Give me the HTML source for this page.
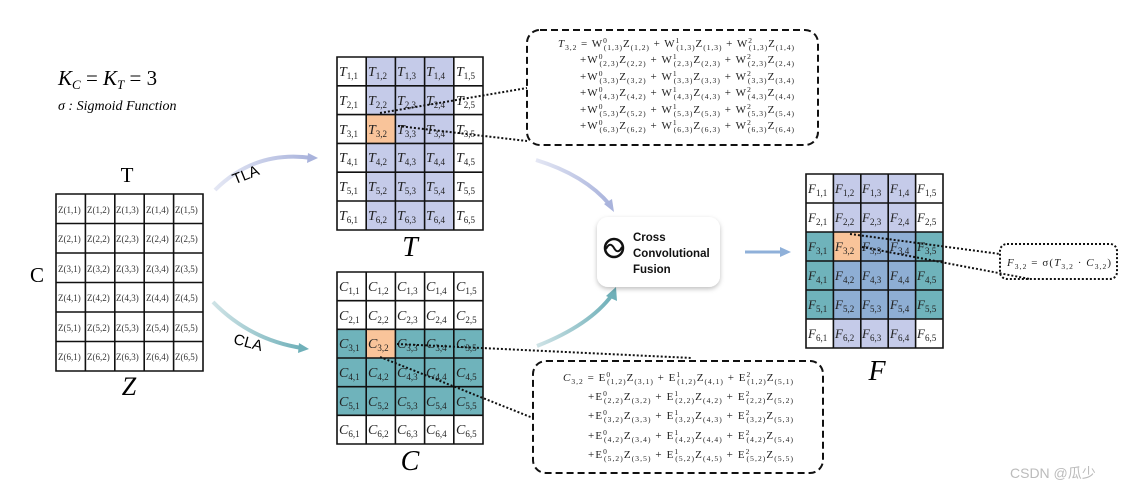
<!DOCTYPE html>
<html><head><meta charset="utf-8"><style>
html,body{margin:0;padding:0;background:#fff}
svg{display:block}
.m{font-family:"Liberation Serif",serif;font-style:italic}
.cl{font-family:"Liberation Serif",serif;font-style:italic;font-size:14px;fill:#222}
.cl tspan{font-size:9px;font-style:normal}
.z{font-family:"Liberation Serif",serif;font-size:9px;fill:#333}
.eq{font-family:"Liberation Serif",serif;font-size:11px;fill:#222}
.eq .s{font-size:7.5px}
.g{stroke:#111;stroke-width:1.6;fill:none}
</style></head><body>
<svg width="1141" height="495" viewBox="0 0 1141 495" xmlns="http://www.w3.org/2000/svg">
<defs>
<linearGradient id="lg1" x1="0" x2="1"><stop offset="0" stop-color="#e4e7f4"/><stop offset="1" stop-color="#a9b3dc"/></linearGradient>
<linearGradient id="lg2" x1="0" x2="1"><stop offset="0" stop-color="#cfe3e6"/><stop offset="1" stop-color="#6fb0b9"/></linearGradient>
<filter id="sh" x="-20%" y="-20%" width="140%" height="150%"><feDropShadow dx="0" dy="2" stdDeviation="2.5" flood-color="#000" flood-opacity="0.25"/></filter>
</defs>

<text x="58" y="85" class="m" font-size="21">K<tspan font-size="13" dy="4">C</tspan><tspan dy="-4" font-style="normal"> = </tspan>K<tspan font-size="13" dy="4">T</tspan><tspan dy="-4" font-style="normal"> = 3</tspan></text>
<text x="58" y="110" class="m" font-size="14">σ : Sigmoid Function</text>

<!-- Z grid -->
<text x="127" y="182" font-family="Liberation Serif,serif" font-size="21" text-anchor="middle">T</text>
<text x="30" y="282" font-family="Liberation Serif,serif" font-size="21">C</text>
<text x="129" y="395" class="m" font-size="26" text-anchor="middle">Z</text>
<g>
<rect x="56" y="194" width="147" height="177" fill="#fff"/>
<path class="g" d="M56 194H203V371H56Z M85.4 194V371 M114.8 194V371 M144.2 194V371 M173.6 194V371 M56 223.5H203 M56 253H203 M56 282.5H203 M56 312H203 M56 341.5H203"/>
<g class="z">
<text x="58" y="213">Z(1,1)</text><text x="87" y="213">Z(1,2)</text><text x="116" y="213">Z(1,3)</text><text x="146" y="213">Z(1,4)</text><text x="175" y="213">Z(1,5)</text>
<text x="58" y="242">Z(2,1)</text><text x="87" y="242">Z(2,2)</text><text x="116" y="242">Z(2,3)</text><text x="146" y="242">Z(2,4)</text><text x="175" y="242">Z(2,5)</text>
<text x="58" y="272">Z(3,1)</text><text x="87" y="272">Z(3,2)</text><text x="116" y="272">Z(3,3)</text><text x="146" y="272">Z(3,4)</text><text x="175" y="272">Z(3,5)</text>
<text x="58" y="301">Z(4,1)</text><text x="87" y="301">Z(4,2)</text><text x="116" y="301">Z(4,3)</text><text x="146" y="301">Z(4,4)</text><text x="175" y="301">Z(4,5)</text>
<text x="58" y="331">Z(5,1)</text><text x="87" y="331">Z(5,2)</text><text x="116" y="331">Z(5,3)</text><text x="146" y="331">Z(5,4)</text><text x="175" y="331">Z(5,5)</text>
<text x="58" y="360">Z(6,1)</text><text x="87" y="360">Z(6,2)</text><text x="116" y="360">Z(6,3)</text><text x="146" y="360">Z(6,4)</text><text x="175" y="360">Z(6,5)</text>
</g></g>

<path d="M215 190 Q255 150 312 158" stroke="url(#lg1)" stroke-width="4" fill="none"/>
<path d="M308 153 L318 158 L307 163Z" fill="#a9b3dc"/>
<text x="232" y="180" font-family="Liberation Sans,sans-serif" font-size="15" transform="rotate(-22 245 175)">TLA</text>
<path d="M213 302 Q250 340 302 348" stroke="url(#lg2)" stroke-width="4" fill="none"/>
<path d="M299 343 L309 349 L298 353Z" fill="#6fb0b9"/>
<text x="233" y="348" font-family="Liberation Sans,sans-serif" font-size="15" transform="rotate(15 250 345)">CLA</text>

<!-- T grid -->
<g>
<rect x="337" y="57" width="146" height="173" fill="#fff"/>
<rect x="366.2" y="57" width="87.6" height="173" fill="#c5cbe9"/>
<rect x="366.2" y="114.6" width="29.2" height="28.8" fill="#f9c49a"/>
<path class="g" d="M337 57H483V230H337Z M366.2 57V230 M395.4 57V230 M424.6 57V230 M453.8 57V230 M337 85.8H483 M337 114.6H483 M337 143.4H483 M337 172.2H483 M337 201H483"/>
<g class="cl">
<text x="339" y="76">T<tspan dy="3">1,1</tspan></text><text x="368" y="76">T<tspan dy="3">1,2</tspan></text><text x="397" y="76">T<tspan dy="3">1,3</tspan></text><text x="426" y="76">T<tspan dy="3">1,4</tspan></text><text x="456" y="76">T<tspan dy="3">1,5</tspan></text>
<text x="339" y="105">T<tspan dy="3">2,1</tspan></text><text x="368" y="105">T<tspan dy="3">2,2</tspan></text><text x="397" y="105">T<tspan dy="3">2,3</tspan></text><text x="426" y="105">T<tspan dy="3">2,4</tspan></text><text x="456" y="105">T<tspan dy="3">2,5</tspan></text>
<text x="339" y="134">T<tspan dy="3">3,1</tspan></text><text x="368" y="134">T<tspan dy="3">3,2</tspan></text><text x="397" y="134">T<tspan dy="3">3,3</tspan></text><text x="426" y="134">T<tspan dy="3">3,4</tspan></text><text x="456" y="134">T<tspan dy="3">3,5</tspan></text>
<text x="339" y="162">T<tspan dy="3">4,1</tspan></text><text x="368" y="162">T<tspan dy="3">4,2</tspan></text><text x="397" y="162">T<tspan dy="3">4,3</tspan></text><text x="426" y="162">T<tspan dy="3">4,4</tspan></text><text x="456" y="162">T<tspan dy="3">4,5</tspan></text>
<text x="339" y="191">T<tspan dy="3">5,1</tspan></text><text x="368" y="191">T<tspan dy="3">5,2</tspan></text><text x="397" y="191">T<tspan dy="3">5,3</tspan></text><text x="426" y="191">T<tspan dy="3">5,4</tspan></text><text x="456" y="191">T<tspan dy="3">5,5</tspan></text>
<text x="339" y="220">T<tspan dy="3">6,1</tspan></text><text x="368" y="220">T<tspan dy="3">6,2</tspan></text><text x="397" y="220">T<tspan dy="3">6,3</tspan></text><text x="426" y="220">T<tspan dy="3">6,4</tspan></text><text x="456" y="220">T<tspan dy="3">6,5</tspan></text>
</g></g>
<text x="410" y="256" class="m" font-size="28" text-anchor="middle">T</text>

<!-- C grid -->
<g>
<rect x="337" y="272" width="146" height="172" fill="#fff"/>
<rect x="337" y="329.3" width="146" height="86" fill="#6fb3bb"/>
<rect x="366.2" y="329.3" width="29.2" height="28.7" fill="#f9c49a"/>
<path class="g" d="M337 272H483V444H337Z M366.2 272V444 M395.4 272V444 M424.6 272V444 M453.8 272V444 M337 300.7H483 M337 329.3H483 M337 358H483 M337 386.7H483 M337 415.3H483"/>
<g class="cl">
<text x="339" y="291">C<tspan dy="3">1,1</tspan></text><text x="368" y="291">C<tspan dy="3">1,2</tspan></text><text x="397" y="291">C<tspan dy="3">1,3</tspan></text><text x="426" y="291">C<tspan dy="3">1,4</tspan></text><text x="456" y="291">C<tspan dy="3">1,5</tspan></text>
<text x="339" y="320">C<tspan dy="3">2,1</tspan></text><text x="368" y="320">C<tspan dy="3">2,2</tspan></text><text x="397" y="320">C<tspan dy="3">2,3</tspan></text><text x="426" y="320">C<tspan dy="3">2,4</tspan></text><text x="456" y="320">C<tspan dy="3">2,5</tspan></text>
<text x="339" y="348">C<tspan dy="3">3,1</tspan></text><text x="368" y="348">C<tspan dy="3">3,2</tspan></text><text x="397" y="348">C<tspan dy="3">3,3</tspan></text><text x="426" y="348">C<tspan dy="3">3,4</tspan></text><text x="456" y="348">C<tspan dy="3">3,5</tspan></text>
<text x="339" y="377">C<tspan dy="3">4,1</tspan></text><text x="368" y="377">C<tspan dy="3">4,2</tspan></text><text x="397" y="377">C<tspan dy="3">4,3</tspan></text><text x="426" y="377">C<tspan dy="3">4,4</tspan></text><text x="456" y="377">C<tspan dy="3">4,5</tspan></text>
<text x="339" y="406">C<tspan dy="3">5,1</tspan></text><text x="368" y="406">C<tspan dy="3">5,2</tspan></text><text x="397" y="406">C<tspan dy="3">5,3</tspan></text><text x="426" y="406">C<tspan dy="3">5,4</tspan></text><text x="456" y="406">C<tspan dy="3">5,5</tspan></text>
<text x="339" y="434">C<tspan dy="3">6,1</tspan></text><text x="368" y="434">C<tspan dy="3">6,2</tspan></text><text x="397" y="434">C<tspan dy="3">6,3</tspan></text><text x="426" y="434">C<tspan dy="3">6,4</tspan></text><text x="456" y="434">C<tspan dy="3">6,5</tspan></text>
</g></g>
<text x="410" y="470" class="m" font-size="28" text-anchor="middle">C</text>

<!-- F grid -->
<g>
<rect x="806" y="174" width="137" height="174" fill="#fff"/>
<rect x="833.4" y="174" width="82.2" height="174" fill="#c5cbe9"/>
<rect x="806" y="232" width="137" height="87" fill="#6fb3bb"/>
<rect x="833.4" y="232" width="82.2" height="87" fill="#8eaed4"/>
<rect x="833.4" y="232" width="27.4" height="29" fill="#f9c49a"/>
<path class="g" d="M806 174H943V348H806Z M833.4 174V348 M860.8 174V348 M888.2 174V348 M915.6 174V348 M806 203H943 M806 232H943 M806 261H943 M806 290H943 M806 319H943"/>
<g class="cl" style="font-size:13px">
<text x="808" y="193">F<tspan dy="3">1,1</tspan></text><text x="835" y="193">F<tspan dy="3">1,2</tspan></text><text x="862" y="193">F<tspan dy="3">1,3</tspan></text><text x="890" y="193">F<tspan dy="3">1,4</tspan></text><text x="917" y="193">F<tspan dy="3">1,5</tspan></text>
<text x="808" y="222">F<tspan dy="3">2,1</tspan></text><text x="835" y="222">F<tspan dy="3">2,2</tspan></text><text x="862" y="222">F<tspan dy="3">2,3</tspan></text><text x="890" y="222">F<tspan dy="3">2,4</tspan></text><text x="917" y="222">F<tspan dy="3">2,5</tspan></text>
<text x="808" y="251">F<tspan dy="3">3,1</tspan></text><text x="835" y="251">F<tspan dy="3">3,2</tspan></text><text x="862" y="251">F<tspan dy="3">3,3</tspan></text><text x="890" y="251">F<tspan dy="3">3,4</tspan></text><text x="917" y="251">F<tspan dy="3">3,5</tspan></text>
<text x="808" y="280">F<tspan dy="3">4,1</tspan></text><text x="835" y="280">F<tspan dy="3">4,2</tspan></text><text x="862" y="280">F<tspan dy="3">4,3</tspan></text><text x="890" y="280">F<tspan dy="3">4,4</tspan></text><text x="917" y="280">F<tspan dy="3">4,5</tspan></text>
<text x="808" y="309">F<tspan dy="3">5,1</tspan></text><text x="835" y="309">F<tspan dy="3">5,2</tspan></text><text x="862" y="309">F<tspan dy="3">5,3</tspan></text><text x="890" y="309">F<tspan dy="3">5,4</tspan></text><text x="917" y="309">F<tspan dy="3">5,5</tspan></text>
<text x="808" y="338">F<tspan dy="3">6,1</tspan></text><text x="835" y="338">F<tspan dy="3">6,2</tspan></text><text x="862" y="338">F<tspan dy="3">6,3</tspan></text><text x="890" y="338">F<tspan dy="3">6,4</tspan></text><text x="917" y="338">F<tspan dy="3">6,5</tspan></text>
</g></g>
<text x="877" y="380" class="m" font-size="28" text-anchor="middle">F</text>

<path d="M536 160 Q585 175 610 205" stroke="url(#lg1)" stroke-width="4" fill="none"/>
<path d="M604 204 L614 212 L612 199Z" fill="#a9b3dc"/>
<path d="M537 346 Q590 325 612 295" stroke="url(#lg2)" stroke-width="4" fill="none"/>
<path d="M606 296 L616 287 L617 301Z" fill="#6fb0b9"/>
<rect x="597" y="217" width="123" height="70" rx="11" fill="#fff" filter="url(#sh)"/>
<circle cx="614" cy="248" r="9" fill="none" stroke="#111" stroke-width="2.5"/>
<path d="M606 249 Q610 241 614 248 Q618 255 622 247" stroke="#111" stroke-width="2" fill="none"/>
<g font-family="Liberation Sans,sans-serif" font-weight="bold" font-size="11.5" fill="#111">
<text x="633" y="241">Cross</text><text x="633" y="257">Convolutional</text><text x="633" y="273">Fusion</text></g>
<path d="M745 252 H782" stroke="#8fb0d9" stroke-width="3"/>
<path d="M780 247 L791 252 L780 257Z" fill="#8fb0d9"/>

<!-- equation boxes -->
<rect x="527" y="30" width="291" height="115" rx="13" fill="none" stroke="#111" stroke-width="2" stroke-dasharray="7 4"/>
<g class="eq">
<text x="558" y="47" textLength="236"><tspan font-style="italic">T</tspan><tspan class="s" dy="3">3,2</tspan><tspan dy="-3"> = W</tspan><tspan class="s" dy="-4">0</tspan><tspan class="s" dx="-4" dy="7">(1,3)</tspan><tspan dy="-3">Z</tspan><tspan class="s" dy="3">(1,2)</tspan><tspan dy="-3"> + W</tspan><tspan class="s" dy="-4">1</tspan><tspan class="s" dx="-4" dy="7">(1,3)</tspan><tspan dy="-3">Z</tspan><tspan class="s" dy="3">(1,3)</tspan><tspan dy="-3"> + W</tspan><tspan class="s" dy="-4">2</tspan><tspan class="s" dx="-4" dy="7">(1,3)</tspan><tspan dy="-3">Z</tspan><tspan class="s" dy="3">(1,4)</tspan></text>
<text x="580" y="63" textLength="214">+W<tspan class="s" dy="-4">0</tspan><tspan class="s" dx="-4" dy="7">(2,3)</tspan><tspan dy="-3">Z</tspan><tspan class="s" dy="3">(2,2)</tspan><tspan dy="-3"> + W</tspan><tspan class="s" dy="-4">1</tspan><tspan class="s" dx="-4" dy="7">(2,3)</tspan><tspan dy="-3">Z</tspan><tspan class="s" dy="3">(2,3)</tspan><tspan dy="-3"> + W</tspan><tspan class="s" dy="-4">2</tspan><tspan class="s" dx="-4" dy="7">(2,3)</tspan><tspan dy="-3">Z</tspan><tspan class="s" dy="3">(2,4)</tspan></text>
<text x="580" y="80" textLength="214">+W<tspan class="s" dy="-4">0</tspan><tspan class="s" dx="-4" dy="7">(3,3)</tspan><tspan dy="-3">Z</tspan><tspan class="s" dy="3">(3,2)</tspan><tspan dy="-3"> + W</tspan><tspan class="s" dy="-4">1</tspan><tspan class="s" dx="-4" dy="7">(3,3)</tspan><tspan dy="-3">Z</tspan><tspan class="s" dy="3">(3,3)</tspan><tspan dy="-3"> + W</tspan><tspan class="s" dy="-4">2</tspan><tspan class="s" dx="-4" dy="7">(3,3)</tspan><tspan dy="-3">Z</tspan><tspan class="s" dy="3">(3,4)</tspan></text>
<text x="580" y="96" textLength="214">+W<tspan class="s" dy="-4">0</tspan><tspan class="s" dx="-4" dy="7">(4,3)</tspan><tspan dy="-3">Z</tspan><tspan class="s" dy="3">(4,2)</tspan><tspan dy="-3"> + W</tspan><tspan class="s" dy="-4">1</tspan><tspan class="s" dx="-4" dy="7">(4,3)</tspan><tspan dy="-3">Z</tspan><tspan class="s" dy="3">(4,3)</tspan><tspan dy="-3"> + W</tspan><tspan class="s" dy="-4">2</tspan><tspan class="s" dx="-4" dy="7">(4,3)</tspan><tspan dy="-3">Z</tspan><tspan class="s" dy="3">(4,4)</tspan></text>
<text x="580" y="113" textLength="214">+W<tspan class="s" dy="-4">0</tspan><tspan class="s" dx="-4" dy="7">(5,3)</tspan><tspan dy="-3">Z</tspan><tspan class="s" dy="3">(5,2)</tspan><tspan dy="-3"> + W</tspan><tspan class="s" dy="-4">1</tspan><tspan class="s" dx="-4" dy="7">(5,3)</tspan><tspan dy="-3">Z</tspan><tspan class="s" dy="3">(5,3)</tspan><tspan dy="-3"> + W</tspan><tspan class="s" dy="-4">2</tspan><tspan class="s" dx="-4" dy="7">(5,3)</tspan><tspan dy="-3">Z</tspan><tspan class="s" dy="3">(5,4)</tspan></text>
<text x="580" y="129" textLength="214">+W<tspan class="s" dy="-4">0</tspan><tspan class="s" dx="-4" dy="7">(6,3)</tspan><tspan dy="-3">Z</tspan><tspan class="s" dy="3">(6,2)</tspan><tspan dy="-3"> + W</tspan><tspan class="s" dy="-4">1</tspan><tspan class="s" dx="-4" dy="7">(6,3)</tspan><tspan dy="-3">Z</tspan><tspan class="s" dy="3">(6,3)</tspan><tspan dy="-3"> + W</tspan><tspan class="s" dy="-4">2</tspan><tspan class="s" dx="-4" dy="7">(6,3)</tspan><tspan dy="-3">Z</tspan><tspan class="s" dy="3">(6,4)</tspan></text>
</g>
<rect x="533" y="361" width="290" height="112" rx="13" fill="none" stroke="#111" stroke-width="2" stroke-dasharray="7 4"/>
<g class="eq">
<text x="563" y="381" textLength="230"><tspan font-style="italic">C</tspan><tspan class="s" dy="3">3,2</tspan><tspan dy="-3"> = E</tspan><tspan class="s" dy="-4">0</tspan><tspan class="s" dx="-4" dy="7">(1,2)</tspan><tspan dy="-3">Z</tspan><tspan class="s" dy="3">(3,1)</tspan><tspan dy="-3"> + E</tspan><tspan class="s" dy="-4">1</tspan><tspan class="s" dx="-4" dy="7">(1,2)</tspan><tspan dy="-3">Z</tspan><tspan class="s" dy="3">(4,1)</tspan><tspan dy="-3"> + E</tspan><tspan class="s" dy="-4">2</tspan><tspan class="s" dx="-4" dy="7">(1,2)</tspan><tspan dy="-3">Z</tspan><tspan class="s" dy="3">(5,1)</tspan></text>
<text x="588" y="400" textLength="205">+E<tspan class="s" dy="-4">0</tspan><tspan class="s" dx="-4" dy="7">(2,2)</tspan><tspan dy="-3">Z</tspan><tspan class="s" dy="3">(3,2)</tspan><tspan dy="-3"> + E</tspan><tspan class="s" dy="-4">1</tspan><tspan class="s" dx="-4" dy="7">(2,2)</tspan><tspan dy="-3">Z</tspan><tspan class="s" dy="3">(4,2)</tspan><tspan dy="-3"> + E</tspan><tspan class="s" dy="-4">2</tspan><tspan class="s" dx="-4" dy="7">(2,2)</tspan><tspan dy="-3">Z</tspan><tspan class="s" dy="3">(5,2)</tspan></text>
<text x="588" y="419" textLength="205">+E<tspan class="s" dy="-4">0</tspan><tspan class="s" dx="-4" dy="7">(3,2)</tspan><tspan dy="-3">Z</tspan><tspan class="s" dy="3">(3,3)</tspan><tspan dy="-3"> + E</tspan><tspan class="s" dy="-4">1</tspan><tspan class="s" dx="-4" dy="7">(3,2)</tspan><tspan dy="-3">Z</tspan><tspan class="s" dy="3">(4,3)</tspan><tspan dy="-3"> + E</tspan><tspan class="s" dy="-4">2</tspan><tspan class="s" dx="-4" dy="7">(3,2)</tspan><tspan dy="-3">Z</tspan><tspan class="s" dy="3">(5,3)</tspan></text>
<text x="588" y="439" textLength="205">+E<tspan class="s" dy="-4">0</tspan><tspan class="s" dx="-4" dy="7">(4,2)</tspan><tspan dy="-3">Z</tspan><tspan class="s" dy="3">(3,4)</tspan><tspan dy="-3"> + E</tspan><tspan class="s" dy="-4">1</tspan><tspan class="s" dx="-4" dy="7">(4,2)</tspan><tspan dy="-3">Z</tspan><tspan class="s" dy="3">(4,4)</tspan><tspan dy="-3"> + E</tspan><tspan class="s" dy="-4">2</tspan><tspan class="s" dx="-4" dy="7">(4,2)</tspan><tspan dy="-3">Z</tspan><tspan class="s" dy="3">(5,4)</tspan></text>
<text x="588" y="458" textLength="205">+E<tspan class="s" dy="-4">0</tspan><tspan class="s" dx="-4" dy="7">(5,2)</tspan><tspan dy="-3">Z</tspan><tspan class="s" dy="3">(3,5)</tspan><tspan dy="-3"> + E</tspan><tspan class="s" dy="-4">1</tspan><tspan class="s" dx="-4" dy="7">(5,2)</tspan><tspan dy="-3">Z</tspan><tspan class="s" dy="3">(4,5)</tspan><tspan dy="-3"> + E</tspan><tspan class="s" dy="-4">2</tspan><tspan class="s" dx="-4" dy="7">(5,2)</tspan><tspan dy="-3">Z</tspan><tspan class="s" dy="3">(5,5)</tspan></text>
</g>
<rect x="1000" y="244" width="117" height="35" rx="7" fill="none" stroke="#111" stroke-width="2" stroke-dasharray="2 2"/>
<text x="1007" y="266" class="eq" font-size="12" textLength="104"><tspan font-style="italic">F</tspan><tspan class="s" dy="3">3,2</tspan><tspan dy="-3"> = σ(</tspan><tspan font-style="italic">T</tspan><tspan class="s" dy="3">3,2</tspan><tspan dy="-3"> · </tspan><tspan font-style="italic">C</tspan><tspan class="s" dy="3">3,2</tspan><tspan dy="-3">)</tspan></text>

<g stroke="#111" stroke-width="2" stroke-dasharray="2 2" fill="none">
<path d="M380 113 L527 88"/>
<path d="M398 126 L527 141"/>
<path d="M397 344 L692 358"/>
<path d="M380 357 L533 418"/>
<path d="M850 234 L1000 254"/>
<path d="M862 247 L1030 279"/>
</g>

<text x="1010" y="478" font-family="Liberation Sans,'Noto Sans CJK SC',sans-serif" font-size="14" fill="#bbb">CSDN @瓜少</text>
</svg>
</body></html>
